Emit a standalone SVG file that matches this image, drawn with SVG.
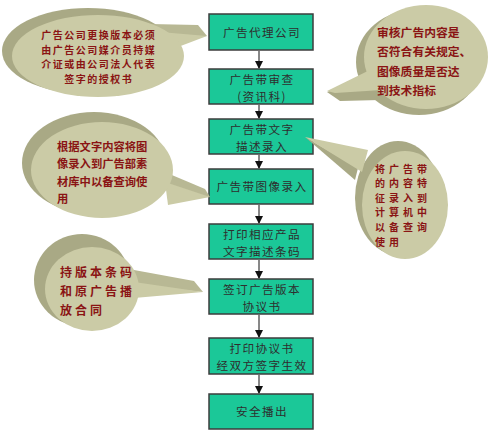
<svg xmlns="http://www.w3.org/2000/svg" width="500" height="438" viewBox="0 0 500 438">
<defs>
<style>
.box{fill:#1bc898;stroke:#3c3c3c;stroke-width:1.5}
.bt{font-family:"Noto Sans CJK SC","Noto Sans",sans-serif;font-size:11.6px;fill:#2e2e2e;text-anchor:middle;letter-spacing:1.4px}
.face{fill:#cbcba6}
.rim{fill:#a9a985}
.rimL{fill:#b8b894}
.nt{font-family:"Noto Sans CJK SC","Noto Sans",sans-serif;font-weight:bold;fill:#8a1414}
.con{stroke:#111;stroke-width:1;fill:none}
</style>
<marker id="ah" markerWidth="8" markerHeight="8" refX="7" refY="4" orient="auto" markerUnits="userSpaceOnUse">
<path d="M0,0 L8,4 L0,8 Z" fill="#111"/>
</marker>
</defs>
<rect width="500" height="438" fill="#ffffff"/>

<g id="connectors">
<line class="con" x1="259" y1="51" x2="259" y2="68" marker-end="url(#ah)"/>
<line class="con" x1="259" y1="105" x2="259" y2="118" marker-end="url(#ah)"/>
<line class="con" x1="259" y1="155" x2="259" y2="168" marker-end="url(#ah)"/>
<line class="con" x1="259" y1="205" x2="259" y2="223" marker-end="url(#ah)"/>
<line class="con" x1="259" y1="260" x2="259" y2="278" marker-end="url(#ah)"/>
<line class="con" x1="259" y1="315" x2="259" y2="337" marker-end="url(#ah)"/>
<line class="con" x1="259" y1="375" x2="259" y2="393" marker-end="url(#ah)"/>
</g>

<g id="step1">
<rect class="box" x="209" y="14" width="104" height="36"/>
<text class="bt" x="262" y="36.5">广告代理公司</text>
</g>
<g id="step2">
<rect class="box" x="209" y="69" width="104" height="35"/>
<text class="bt" x="262" y="83.5">广告带审查<tspan x="262" dy="17">(资讯科)</tspan></text>
</g>
<g id="step3">
<rect class="box" x="209" y="119" width="104" height="35"/>
<text class="bt" x="262" y="133.5">广告带文字<tspan x="262" dy="17">描述录入</tspan></text>
</g>
<g id="step4">
<rect class="box" x="209" y="169" width="104" height="35"/>
<text class="bt" x="262" y="191">广告带图像录入</text>
</g>
<g id="step5">
<rect class="box" x="209" y="224" width="104" height="35"/>
<text class="bt" x="262" y="239">打印相应产品<tspan x="262" dy="17">文字描述条码</tspan></text>
</g>
<g id="step6">
<rect class="box" x="209" y="279" width="104" height="35"/>
<text class="bt" x="262" y="294">签订广告版本<tspan x="262" dy="17">协议书</tspan></text>
</g>
<g id="step7">
<rect class="box" x="209" y="338" width="104" height="36"/>
<text class="bt" x="262" y="352.5">打印协议书<tspan x="262" dy="17.5">经双方签字生效</tspan></text>
</g>
<g id="step8">
<rect class="box" x="209" y="394" width="104" height="35"/>
<text class="bt" x="262" y="416">安全播出</text>
</g>

<g id="note1">
<ellipse class="rim" cx="88" cy="51" rx="86" ry="43"/>
<polygon class="rimL" points="150,24 198,25 207,36 160,40"/>
<polygon class="face" points="160,32 207,36 178,47 160,46"/>
<ellipse class="face" cx="98" cy="56" rx="86" ry="41"/>
<text class="nt" font-size="10" letter-spacing="1.5" text-anchor="middle" x="98.7" y="39">广告公司更换版本必须<tspan x="98.7" dy="14.5">由广告公司媒介员持媒</tspan><tspan x="98.7" dy="14.5">介证或由公司法人代表</tspan><tspan x="98.7" dy="14.5">签字的授权书</tspan></text>
</g>

<g id="note2">
<ellipse class="rim" cx="419" cy="62" rx="63" ry="53"/>
<polygon class="rim" points="374,74 327,92 340,101 380,100"/>
<polygon class="face" points="378,66 327,91 335,93 382,90"/>
<ellipse class="face" cx="426" cy="57" rx="62" ry="52"/>
<text class="nt" font-size="11.8" x="377" y="37">审核广告内容是<tspan x="377" dy="19">否符合有关规定、</tspan><tspan x="377" dy="20">图像质量是否达</tspan><tspan x="377" dy="19">到技术指标</tspan></text>
</g>

<g id="note3">
<ellipse class="rim" cx="94" cy="163" rx="72" ry="51"/>
<polygon class="rimL" points="160,170 205,189 210,197 165,190"/>
<polygon class="face" points="165,182 210,197 168,205"/>
<ellipse class="face" cx="102" cy="170" rx="71" ry="48"/>
<text class="nt" font-size="11.3" x="57" y="151">根据文字内容将图<tspan x="57" dy="17">像录入到广告部素</tspan><tspan x="57" dy="18">材库中以备查询使</tspan><tspan x="57" dy="17">用</tspan></text>
</g>

<g id="note4">
<ellipse class="rim" cx="398" cy="198" rx="43" ry="57"/>
<polygon class="rim" points="305,137 358,168 355,180"/>
<polygon class="face" points="305,137 368,150 362,172"/>
<ellipse class="face" cx="405" cy="205" rx="43" ry="54"/>
<text class="nt" font-size="10" x="375 389 403 417" y="172.5">将广告带<tspan x="375 389 403 417" dy="14.6">的内容特</tspan><tspan x="375 389 403 417" dy="14.6">征录入到</tspan><tspan x="375 389 403 417" dy="14.6">计算机中</tspan><tspan x="375 389 403 417" dy="14.6">以备查询</tspan><tspan x="375 389" dy="14.6">使用</tspan></text>
</g>

<g id="note5">
<ellipse class="rim" cx="82" cy="280" rx="48" ry="46"/>
<polygon class="rimL" points="134,270 194,281 203,292 134,285"/>
<polygon class="face" points="134,282 203,292 134,298"/>
<ellipse class="face" cx="92" cy="289" rx="47" ry="42"/>
<text class="nt" font-size="12" x="60 75 90 105 120" y="277">持版本条码<tspan x="60 75 90 105 120" dy="19">和原广告播</tspan><tspan x="60 75 90" dy="19">放合同</tspan></text>
</g>
</svg>
